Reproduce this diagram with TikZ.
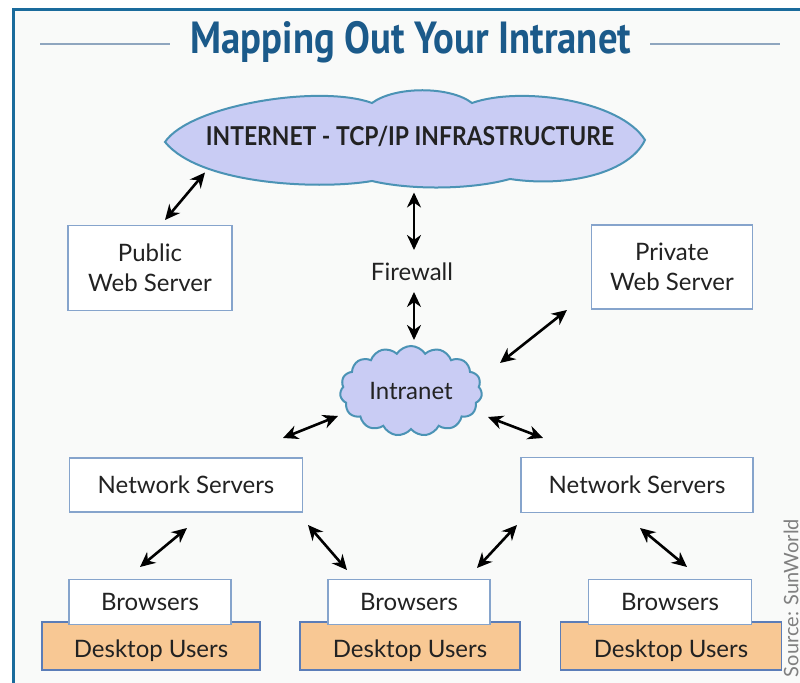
\documentclass[tikz,border=0pt]{standalone}
\usepackage{fontspec}
\setmainfont{Lato}
\newfontfamily\titlefont{PT Sans}
\usetikzlibrary{shapes.symbols,arrows.meta}
\definecolor{framecol}{HTML}{1A6B9C}
\definecolor{titlecol}{HTML}{1B5A8A}
\definecolor{rulecol}{HTML}{8FA6BF}
\definecolor{bgcol}{HTML}{F9FAF9}
\definecolor{cloudfill}{HTML}{C9CCF4}
\definecolor{cloudline}{HTML}{4B93B5}
\definecolor{boxcol}{HTML}{86A4CC}
\definecolor{deskcol}{HTML}{F8C894}
\definecolor{deskline}{HTML}{5B7DB8}
\definecolor{txtcol}{HTML}{222222}

\begin{document}
\begin{tikzpicture}[x=0.5pt,y=-0.5pt,
		box/.style={draw=boxcol,line width=0.8pt,fill=white,align=center,text=txtcol,inner sep=0pt,font=\fontsize{12}{15}\selectfont},
		desk/.style={box,draw=deskline,fill=deskcol},
		puff/.style={fill=cloudfill,draw=cloudline,line width=1pt},
		link/.style={line width=1.3pt,{Stealth[length=7.5pt,width=7pt]}-{Stealth[length=7.5pt,width=7pt]}}]
	\useasboundingbox (0,0) rectangle (800,683);
	\fill[white] (0,0) rectangle (800,683);
	\fill[bgcol] (13,10) rectangle (800,683);
	\draw[framecol,line width=1.5pt] (13,690) -- (13,10) -- (810,10);
	\node[text=titlecol,font=\titlefont\bfseries\fontsize{22.5}{26}\selectfont] (title) at (411,42) {\scalebox{0.86}[1]{Mapping Out Your Intranet}};
	\draw[rulecol,line width=1pt] (40,44) -- (170,44);
	\draw[rulecol,line width=1pt] (650,44) -- (780,44);
	\filldraw[puff] (165,142) .. controls (190,105) and (320,84) .. (372,103)
		.. controls (395,86) and (450,86) .. (472,103)
		.. controls (520,86) and (620,100) .. (645,140)
		.. controls (630,172) and (570,188) .. (510,179)
		.. controls (470,190) and (410,190) .. (372,181)
		.. controls (320,190) and (200,185) .. (165,142) -- cycle;
	\node[text=txtcol,font=\bfseries\fontsize{13}{15}\selectfont] (inet) at (410,136) {\scalebox{0.88}[1]{INTERNET - TCP/IP INFRASTRUCTURE}};
	\node[box,minimum width=82pt,minimum height=42.5pt] (pub) at (150,268) {Public\\Web Server};
	\node[box,minimum width=80.5pt,minimum height=42pt] (priv) at (672,267) {Private\\Web Server};
	\node[text=txtcol,font=\fontsize{12}{15}\selectfont] (fw) at (412,272) {Firewall};
	\node[cloud,puff,cloud puffs=15,cloud puff arc=115,aspect=1.6,minimum width=71pt,minimum height=45pt,inner sep=0pt,text=txtcol,font=\fontsize{12}{15}\selectfont] (intra) at (411,391) {Intranet};
	\node[box,minimum width=116.5pt,minimum height=27pt] (ns1) at (186,485) {Network Servers};
	\node[box,minimum width=116pt,minimum height=27.5pt] (ns2) at (637,485) {Network Servers};
	\node[desk,minimum width=109pt,minimum height=24pt] (du1) at (151,646) {\strut\raisebox{-3pt}{Desktop Users}};
	\node[desk,minimum width=110pt,minimum height=24pt] (du2) at (410,646) {\strut\raisebox{-3pt}{Desktop Users}};
	\node[desk,minimum width=110.5pt,minimum height=24pt] (du3) at (671,646) {\strut\raisebox{-3pt}{Desktop Users}};
	\node[box,minimum width=81pt,minimum height=22.5pt] (br1) at (150,602) {Browsers};
	\node[box,minimum width=81pt,minimum height=22.5pt] (br2) at (409,602) {Browsers};
	\node[box,minimum width=81.5pt,minimum height=22.5pt] (br3) at (670,602) {Browsers};
	\node[rotate=90,anchor=south,inner sep=0pt,text=gray,font=\fontsize{10}{12}\selectfont] (src) at (799,598) {Source: SunWorld};
	\draw[link] ([shift={(15,-48)}]pub.center) -- ([shift={(-205,36.5)}]inet.center);
	\draw[link] ([shift={(4,56.5)}]inet.center) -- ([shift={(2,-22)}]fw.center);
	\draw[link] ([shift={(2,20)}]fw.center) -- ([shift={(3,-51)}]intra.center);
	\draw[link] ([shift={(89,-28)}]intra.center) -- ([shift={(-105,43)}]priv.center);
	\draw[link] ([shift={(97,-47)}]ns1.center) -- ([shift={(-73,25)}]intra.center);
	\draw[link] ([shift={(77,26)}]intra.center) -- ([shift={(-94,-47)}]ns2.center);
	\draw[link] ([shift={(-10,-35)}]br1.center) -- ([shift={(1,43)}]ns1.center);
	\draw[link] ([shift={(122,40)}]ns1.center) -- ([shift={(-62,-32)}]br2.center);
	\draw[link] ([shift={(-120,40)}]ns2.center) -- ([shift={(68,-34)}]br2.center);
	\draw[link] ([shift={(3,43)}]ns2.center) -- ([shift={(17,-35)}]br3.center);
\end{tikzpicture}
\end{document}
